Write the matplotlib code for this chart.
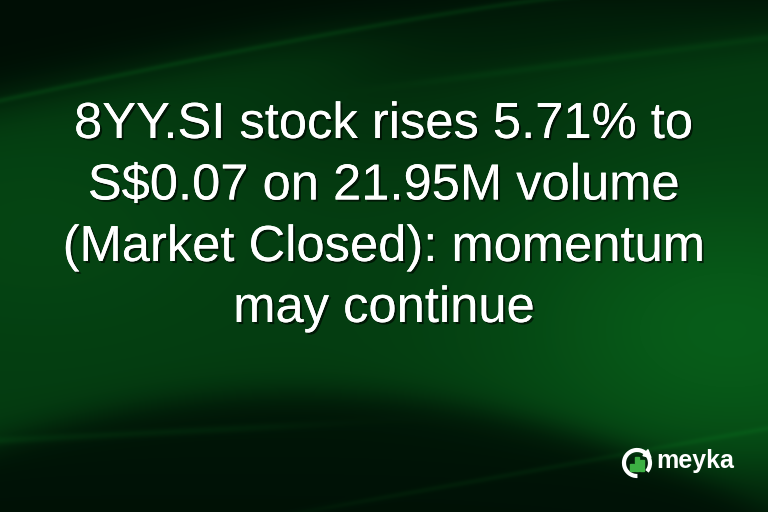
import numpy as np
import matplotlib
matplotlib.use("Agg")
import matplotlib.pyplot as plt
import matplotlib.patheffects as pe
from matplotlib.patches import Arc, Rectangle, Polygon

# headline text, one entry per line
title_lines = [
    "8YY.SI stock rises 5.71% to",
    "S$0.07 on 21.95M volume",
    "(Market Closed): momentum",
    "may continue",
]
brand = "meyka"
# relative heights of the bars in the logo
logo_bars = [0.5, 1.0, 0.8]

W, H = 768, 512

fig = plt.figure(figsize=(W / 100, H / 100), dpi=100)
ax = fig.add_axes([0, 0, 1, 1])
ax.set_xlim(0, W)
ax.set_ylim(H, 0)
ax.axis("off")


def sig(v):
    return 1.0 / (1.0 + np.exp(-v))


# background: green field with dark swoosh regions top and bottom
yy, xx = np.mgrid[0:H, 0:W].astype(float)
base = 0.62 + 0.45 * np.exp(-(((xx - 730) / 220.0) ** 2 + ((yy - 330) / 140.0) ** 2))
base += 0.12 * np.exp(-(((xx - 40) / 200.0) ** 2 + ((yy - 230) / 120.0) ** 2))
base -= 0.12 * np.exp(-(((xx - 400) / 220.0) ** 2 + ((yy - 120) / 60.0) ** 2))

# upper dark area, bounded by a curve rising to the right
ytop = 105 * np.clip(1 - xx / 580.0, 0, 1) ** 1.2 - 5
top_mask = sig((yy - ytop) / 14.0)
# a second, fainter band in the upper right
ytop2 = 85 - 0.13 * (xx - 400)
top_mask2 = 1 - 0.6 * sig((ytop2 - yy) / 12.0) * sig((xx - 360) / 40.0)
# lower dark dome
ybot = 392 + 0.00055 * (xx - 300) ** 2
ybot = np.where(xx > 520, np.minimum(ybot, 392 + 0.00055 * 220 ** 2 + 0.6 * (xx - 520)), ybot)
bot_mask = 1 - 0.85 * sig((yy - ybot) / 10.0)
# bottom edge darkness
bot_mask *= 1 - 0.5 * sig((yy - 470) / 15.0)

light = base * top_mask * top_mask2 * bot_mask
# thin bright streaks along the swoosh edges
light += 0.25 * np.exp(-((yy - ytop) / 3.0) ** 2) * (xx < 580)
light += 0.15 * np.exp(-((yy - ytop2) / 4.0) ** 2) * sig((xx - 420) / 30.0)
light += 0.18 * np.exp(-((yy - (440 - 0.05 * xx)) / 4.0) ** 2) * sig((300 - xx) / 40.0)
light += 0.15 * np.exp(-((yy - (512 - 0.18 * (xx - 300))) / 3.0) ** 2) * sig((xx - 300) / 40.0)
light = np.clip(light, 0, 1.15)

dark = np.array([0, 14, 5])
green = np.array([7, 88, 24])
img = dark + light[..., None] * (green - dark)
ax.imshow(np.clip(img / 255.0, 0, 1), extent=[0, W, H, 0], zorder=0, interpolation="bilinear")

# headline
shadow = [pe.withSimplePatchShadow(offset=(1.5, -1.5), shadow_rgbFace="black", alpha=0.6), pe.Normal()]
baselines = [138, 199.5, 261, 322]
for line, yb in zip(title_lines, baselines):
    ax.text(W / 2, yb, line, color="white", fontsize=36.5,
            family="Liberation Sans", ha="center", va="baseline",
            path_effects=shadow, zorder=3)

# logo: ring with gap + arrow, green bars
cx, cy, rad = 637, 463, 13
ax.add_patch(Arc((cx, cy), 2 * rad, 2 * rad, theta1=88, theta2=400,
                 color="white", lw=3.0, zorder=4))
# arrow head at the open end of the ring (40 degrees)
ang = np.deg2rad(40)
px, py = cx + rad * np.cos(ang), cy - rad * np.sin(ang)
ax.add_patch(Polygon([[px - 4, py + 1], [px + 4, py + 3], [px + 1, py - 5]],
                     closed=True, color="white", zorder=4))
bar_w = 4
for k, hgt in enumerate(logo_bars):
    bx = cx - 7 + k * (bar_w + 0.8)
    h = hgt * 14
    ax.add_patch(Rectangle((bx, cy + 8 - h), bar_w, h, color="#3cb043", zorder=4))
ax.text(656, 468, brand, color="white", fontsize=18, fontweight="bold",
        family="Liberation Sans", ha="left", va="baseline", zorder=4)

fig.savefig("out.png", dpi=100)
